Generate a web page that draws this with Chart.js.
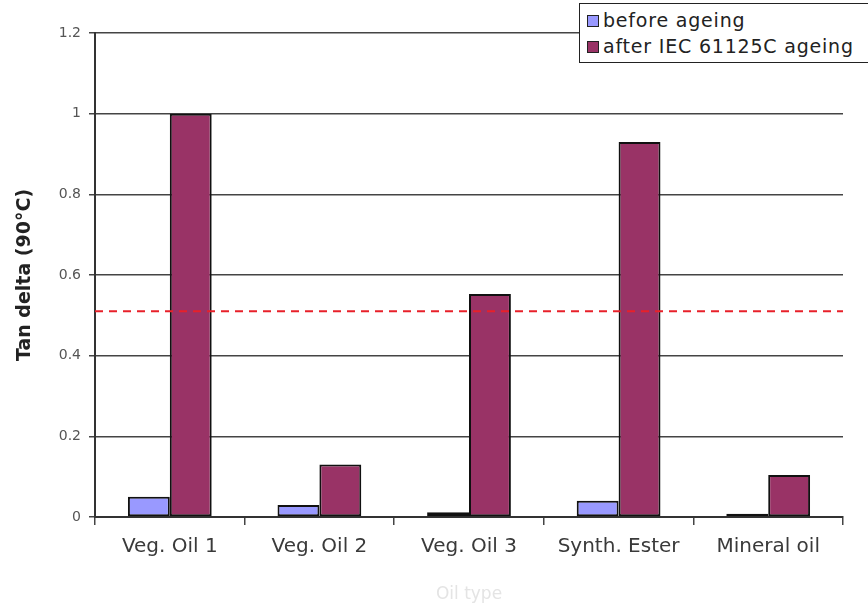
<!DOCTYPE html>
<html>
<head>
<meta charset="utf-8">
<script src="https://cdn.jsdelivr.net/npm/chart.js@4.4.1/dist/chart.umd.min.js"></script>
<style>
  html, body { margin: 0; padding: 0; background: #fff; }
  #wrap { position: relative; width: 868px; height: 610px; }
  #legend {
    position: absolute; left: 579px; top: 3px; width: 300px; height: 60px;
    border: 1.5px solid #222; background: #fff; box-sizing: border-box;
    font-family: "DejaVu Sans", Arial, sans-serif; font-size: 19px; color: #222;
    letter-spacing: 0.8px;
  }
  #legend div { position: absolute; left: 7px; white-space: nowrap; line-height: 20px; }
  #legend span.sw {
    display: inline-block; width: 10px; height: 10px; border: 1px solid #222;
    margin-right: 4px; vertical-align: 0px;
  }
</style>
</head>
<body>
<div id="wrap">
  <canvas id="chart" width="868" height="610"></canvas>
  <div id="legend"></div>
</div>
<script>
// data
var categories = ["Veg. Oil 1", "Veg. Oil 2", "Veg. Oil 3", "Synth. Ester", "Mineral oil"];
var beforeAgeing = [0.05, 0.03, 0.012, 0.04, 0.008];
var afterAgeing = [1.0, 0.13, 0.553, 0.93, 0.104];
var seriesNames = ["before ageing", "after IEC 61125C ageing"];
var seriesColors = ["#9999FF", "#993366"];
var yTicks = [0, 0.2, 0.4, 0.6, 0.8, 1, 1.2];
var limitValue = 0.51;

var font = "'DejaVu Sans', Arial, sans-serif";

// red dashed limit line across the plot
var limitLine = {
    id: 'limitLine',
    afterDatasetsDraw: function(chart) {
        var ctx = chart.ctx, area = chart.chartArea;
        var y = chart.scales.y.getPixelForValue(limitValue);
        ctx.save();
        ctx.strokeStyle = '#E8202A';
        ctx.lineWidth = 2;
        ctx.setLineDash([8, 6]);
        ctx.beginPath();
        ctx.moveTo(area.left, y);
        ctx.lineTo(area.right, y);
        ctx.stroke();
        ctx.restore();
    }
};

new Chart(document.getElementById("chart"), {
    type: 'bar',
    data: {
        labels: categories,
        datasets: [{
            label: seriesNames[0],
            data: beforeAgeing,
            backgroundColor: seriesColors[0],
            borderColor: '#111',
            borderWidth: 2,
            borderSkipped: false
        }, {
            label: seriesNames[1],
            data: afterAgeing,
            backgroundColor: seriesColors[1],
            borderColor: '#111',
            borderWidth: 2,
            borderSkipped: false
        }]
    },
    options: {
        responsive: false,
        animation: false,
        layout: { padding: { top: 33, right: 25, left: 0, bottom: 0 } },
        datasets: { bar: { categoryPercentage: 0.56, barPercentage: 1 } },
        plugins: {
            legend: { display: false },
            tooltip: { enabled: false }
        },
        scales: {
            x: {
                grid: { offset: true, drawOnChartArea: false, color: '#444', lineWidth: 1.5, tickLength: 8 },
                border: { color: '#333', width: 2 },
                ticks: { color: '#3a3a3a', font: { family: font, size: 20 }, padding: 10 },
                title: { display: true, text: 'Oil type', color: '#e4e4e4', font: { family: font, size: 17 }, padding: { top: 4, bottom: 5 } },
                afterFit: function(scale) { scale.height = 93; }
            },
            y: {
                min: 0,
                max: 1.2,
                afterBuildTicks: function(scale) {
                    scale.ticks = yTicks.map(function(v) { return { value: v }; });
                },
                grid: { color: '#444', lineWidth: 1.5, tickLength: 6 },
                border: { color: '#333', width: 2 },
                ticks: {
                    color: '#555', font: { family: font, size: 14 }, padding: 8,
                    callback: function(v) { return String(+v.toFixed(1)); }
                },
                title: { display: true, text: 'Tan delta (90°C)', color: '#222', font: { family: font, size: 19, weight: 'bold' }, padding: { top: 14, bottom: 0 } },
                afterFit: function(scale) { scale.width = 95; }
            }
        }
    },
    plugins: [limitLine]
});

// legend box
var legend = document.getElementById('legend');
seriesNames.forEach(function(name, i) {
    var row = document.createElement('div');
    row.style.top = (i === 0 ? 6 : 32) + 'px';
    row.innerHTML = '<span class="sw" style="background:' + seriesColors[i] + '"></span>' + name;
    legend.appendChild(row);
});
</script>
</body>
</html>
